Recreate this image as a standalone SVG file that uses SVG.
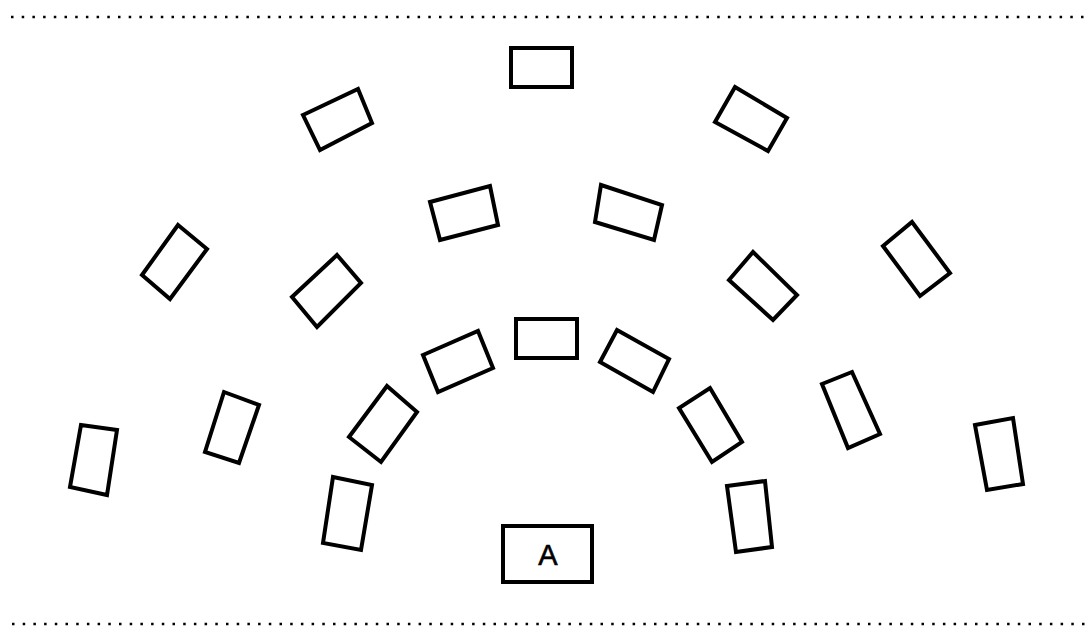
<svg xmlns="http://www.w3.org/2000/svg" width="1086" height="627" viewBox="0 0 1086 627">
<style>
.d{fill:#fff;stroke:#000;stroke-width:4;stroke-linejoin:miter}
.dot{stroke:#000;stroke-width:2.5;stroke-dasharray:2.5 8.2}
.t{font-family:"Liberation Sans",Arial,sans-serif;font-size:29px;fill:#000;text-anchor:middle;stroke:#000;stroke-width:0.6}
</style>
<rect width="1086" height="627" fill="#fff"/>
<line class="dot" x1="11" y1="17" x2="1086" y2="17"/>
<line class="dot" x1="12" y1="624" x2="1086" y2="624"/>
<g id="d1"><polygon class="d" points="511,48 572,48 572,87 511,87"/></g>
<g id="d2"><polygon class="d" points="303,115 358,89 372,123 320,150"/></g>
<g id="d3"><polygon class="d" points="430,202 490,186 498,225 440,240"/></g>
<g id="d4"><polygon class="d" points="735,87 787,118 768,151 715,122"/></g>
<g id="d5"><polygon class="d" points="601,185 662,205 654,240 595,222"/></g>
<g id="d6"><polygon class="d" points="178,225 207,249 170,299 142,275"/></g>
<g id="d7"><polygon class="d" points="337,255 361,283 317,327 292,297"/></g>
<g id="d8"><polygon class="d" points="912,222 950,273 920,296 883,246"/></g>
<g id="d9"><polygon class="d" points="753,252 797,295 773,320 729,280"/></g>
<g id="d10"><polygon class="d" points="81,425 117,430 107,495 70,487"/></g>
<g id="d11"><polygon class="d" points="224,392 259,405 239,463 205,452"/></g>
<g id="d12"><polygon class="d" points="387,386 417,412 381,462 349,437"/></g>
<g id="d13"><polygon class="d" points="423,355 478,331 493,368 438,392"/></g>
<g id="d14"><polygon class="d" points="516,319 577,319 577,358 516,358"/></g>
<g id="d15"><polygon class="d" points="617,330 669,359 653,392 600,362"/></g>
<g id="d16"><polygon class="d" points="710,388 742,442 712,462 679,408"/></g>
<g id="d17"><polygon class="d" points="822,384 852,372 880,434 848,448"/></g>
<g id="d18"><polygon class="d" points="975,425 1013,418 1023,484 987,490"/></g>
<g id="d19"><polygon class="d" points="333,477 372,485 361,550 323,543"/></g>
<g id="d20"><polygon class="d" points="727,486 765,481 772,547 736,552"/></g>
<g id="a"><rect class="d" x="503" y="526" width="89" height="56"/><text class="t" x="548" y="565">A</text></g>
</svg>
